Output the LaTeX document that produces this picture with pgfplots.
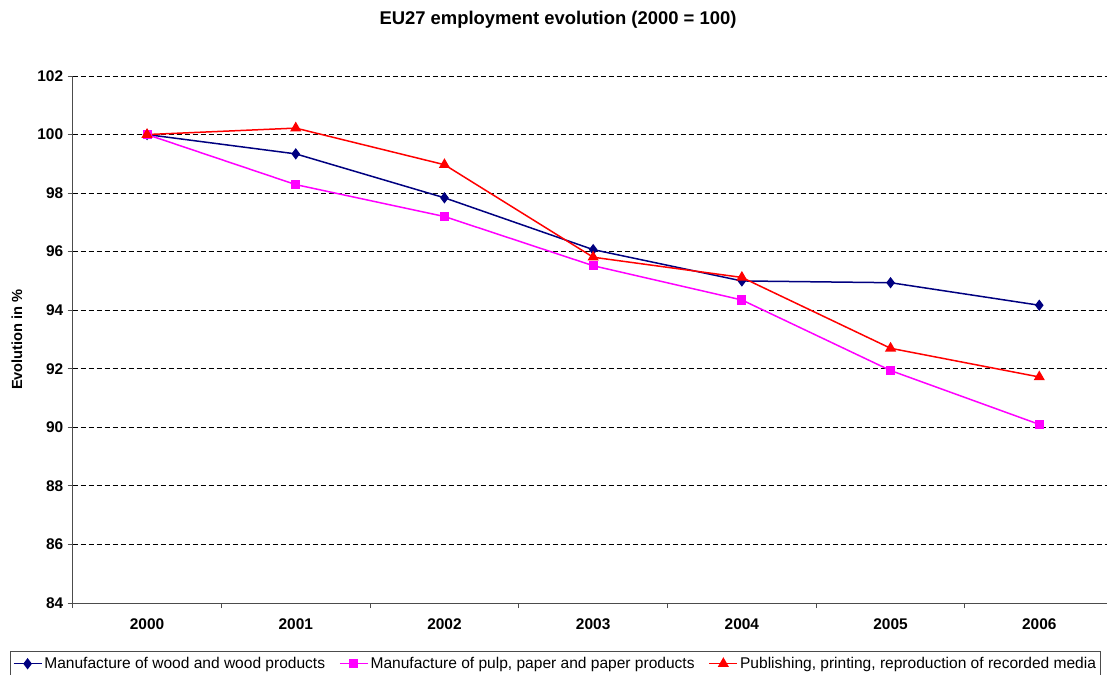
\documentclass[border=0pt]{standalone}
\usepackage{pgfplots}
\pgfplotsset{compat=1.18}
\usepackage{fontspec}
\setmainfont{Liberation Sans}
\definecolor{wood}{HTML}{000080}
\definecolor{pulp}{HTML}{FF00FF}
\definecolor{pub}{HTML}{FF0000}
\begin{document}
\begin{tikzpicture}
\useasboundingbox (-72.7bp,-72bp) rectangle (1034.3bp,603bp);
\begin{axis}[
  scale only axis,
  width=1041bp, height=527bp,
  xmin=-0.5, xmax=6.5,
  ymin=84, ymax=102,
  ytick={84,86,...,102},
  xtick={0,...,6},
  xticklabels={2000,2001,2002,2003,2004,2005,2006},
  minor xtick={-0.5,0.5,...,6.5},
  major x tick style={draw=none},
  tick align=outside,
  major tick length=5bp, minor tick length=5bp,
  axis x line*=bottom, axis y line*=left,
  axis line style={draw=black!70, line width=0.9bp},
  tick style={draw=black!70, line width=0.9bp},
  ymajorgrids,
  grid style={dashed, black, line width=0.8bp, dash pattern=on 5bp off 3bp},
  /pgf/number format/assume math mode=true,
  ticklabel style={font=\fontsize{15.5}{17}\selectfont\bfseries},
  yticklabel style={xshift=-1bp},
  xticklabel style={yshift=-7bp},
  legend style={at={(-62.2bp,-48bp)}, anchor=north west,
     legend columns=3, draw=black!70, line width=0.7bp,
     font=\fontsize{15.6}{18}\selectfont,
     /tikz/every even column/.append style={column sep=12bp},
     inner xsep=2bp, inner ysep=4bp},
  legend cell align=left,
  legend image code/.code={%
    \draw[mark repeat=2, mark phase=2, line width=1.5bp] plot coordinates {(0bp,0bp) (14bp,0bp) (28bp,0bp)};},
  clip=false,
]
\addplot[wood, line width=1.5bp, mark=diamond*, mark size=4.5bp] coordinates {
(0,100) (1,99.34) (2,97.84) (3,96.07) (4,95.0) (5,94.94) (6,94.17)};
\addlegendentry{Manufacture of wood and wood products}
\addplot[pulp, line width=1.5bp, mark=square*, mark size=3.8bp] coordinates {
(0,100) (1,98.29) (2,97.2) (3,95.52) (4,94.35) (5,91.94) (6,90.1)};
\addlegendentry{Manufacture of pulp, paper and paper products}
\addplot[pub, line width=1.5bp, mark=triangle*, mark size=5bp] coordinates {
(0,100) (1,100.22) (2,98.97) (3,95.81) (4,95.12) (5,92.7) (6,91.72)};
\addlegendentry{Publishing, printing, reproduction of recorded media}
\end{axis}
\node[font=\fontsize{18.5}{21}\selectfont\bfseries] at (485.3bp,583bp) {EU27 employment evolution (2000 = 100)};
\node[font=\fontsize{14.7}{17}\selectfont\bfseries, rotate=90] at (-55.7bp,263.5bp) {Evolution in \%};
\end{tikzpicture}
\end{document}
